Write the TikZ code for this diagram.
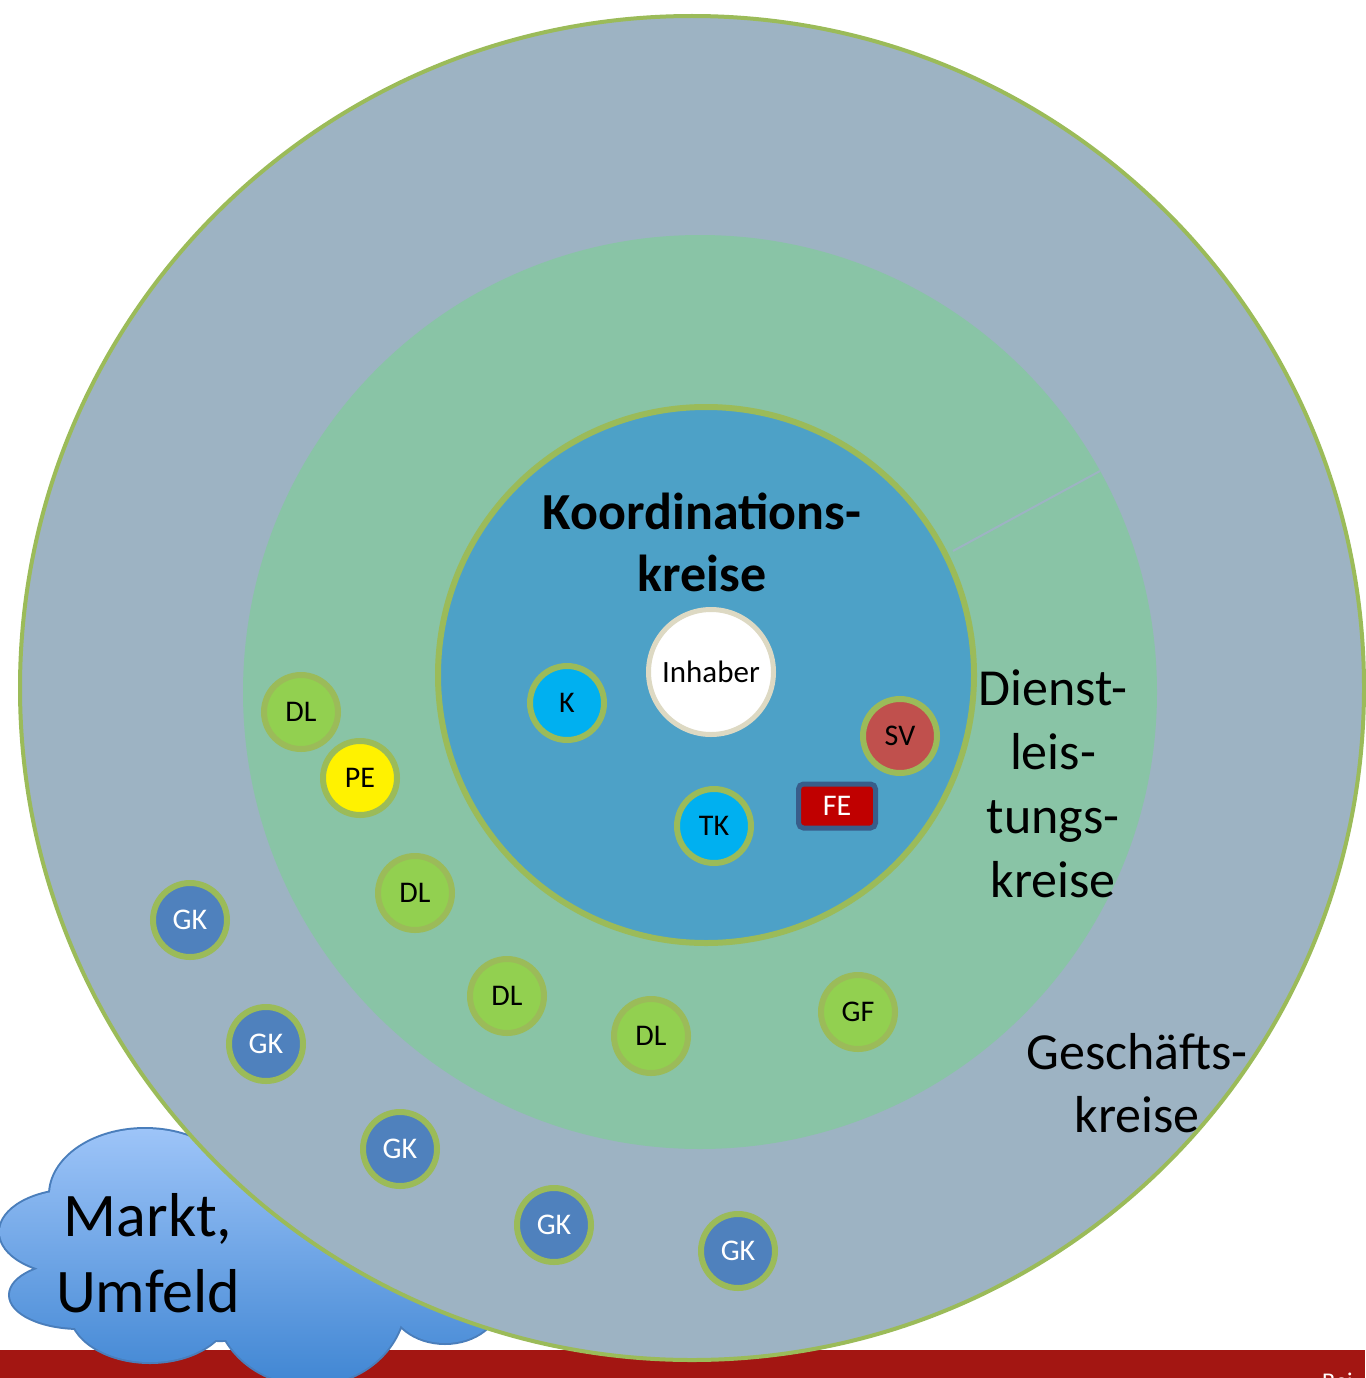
\documentclass[tikz,border=0pt]{standalone}
\usepackage{fontspec}
\setmainfont{Carlito}
\definecolor{outerfill}{RGB}{157,179,195}
\definecolor{greenfill}{RGB}{137,196,166}
\definecolor{innerfill}{RGB}{77,161,199}
\definecolor{olive}{RGB}{155,187,89}
\definecolor{dlfill}{RGB}{146,208,80}
\definecolor{gkfill}{RGB}{79,129,189}
\definecolor{cyanfill}{RGB}{0,176,240}
\definecolor{svfill}{RGB}{192,80,77}
\definecolor{fefill}{RGB}{192,0,0}
\definecolor{feborder}{RGB}{56,93,138}
\definecolor{beige}{RGB}{221,217,195}
\definecolor{barred}{RGB}{163,22,18}
\definecolor{cloudtop}{RGB}{157,196,248}
\definecolor{cloudbot}{RGB}{64,134,211}
\definecolor{cloudline}{RGB}{74,126,187}
\tikzset{
  small/.style={circle, minimum size=74pt, inner sep=0pt, line width=6pt, draw=olive, font=\fontsize{30}{36}\selectfont},
  dlnode/.style={small, fill=dlfill},
  gknode/.style={small, fill=gkfill, text=white},
  cynode/.style={small, fill=cyanfill},
  svnode/.style={small, fill=svfill},
  penode/.style={small, fill=yellow},
  bigtext/.style={font=\fontsize{52}{62}\selectfont, anchor=base},
  boldtext/.style={font=\fontsize{52}{62}\selectfont\bfseries, anchor=base},
  cloudtext/.style={font=\fontsize{62}{75}\selectfont, anchor=base}
}
\begin{document}
\begin{tikzpicture}[x=1pt,y=-1pt]
\useasboundingbox (0,0) rectangle (1365,1378);
% red bar
\fill[barred] (0,1350) rectangle (1365,1378);
\node[anchor=base west, text=white, font=\fontsize{24}{28}\selectfont, inner sep=0pt] (bei) at (1322,1389) {Bei};
% cloud
\def\cloudpath{(145,1195) ellipse [x radius=95pt, y radius=66pt]
  (75,1232) ellipse [x radius=75pt, y radius=42pt]
  (80,1295) ellipse [x radius=70pt, y radius=33pt]
  (150,1310) ellipse [x radius=80pt, y radius=52pt]
  (310,1300) ellipse [x radius=95pt, y radius=85pt]
  (445,1300) ellipse [x radius=55pt, y radius=43pt]
  (220,1260) ellipse [x radius=170pt, y radius=80pt]}
\draw[cloudline, line width=4pt] \cloudpath;
\shade[top color=cloudtop, bottom color=cloudbot] \cloudpath;
% circles
\draw[fill=outerfill, draw=olive, line width=4pt] (692,688) circle [radius=672pt];
\fill[greenfill] (700,692) circle [radius=457pt];
\draw[outerfill, line width=2pt] (953,551) -- (1100,471);
\draw[fill=innerfill, draw=olive, line width=6pt] (706,675) circle [radius=268pt];
% titles
\node[boldtext] (t1) at (702,529) {Koordinations-};
\node[boldtext] (t2) at (702,591) {kreise};
\node[bigtext] (d1) at (1053,705) {Dienst-};
\node[bigtext] (d2) at (1053,769) {leis-};
\node[bigtext] (d3) at (1053,833) {tungs-};
\node[bigtext] (d4) at (1053,897) {kreise};
\node[bigtext] (g1) at (1137,1069) {Geschäfts-};
\node[bigtext] (g2) at (1137,1132) {kreise};
% inner nodes
\node[circle, minimum size=125pt, inner sep=0pt, fill=white, draw=beige, line width=5pt, font=\fontsize{31}{36}\selectfont] (inh) at (711,672) {Inhaber};
\node[cynode] (k) at (567,703) {K};
\node[cynode] (tk) at (714,826) {TK};
\node[svnode] (sv) at (900,736) {SV};
\node[rectangle, rounded corners=5pt, minimum width=77pt, minimum height=44pt, inner sep=0pt, fill=fefill, draw=feborder, line width=5pt, text=white, font=\fontsize{30}{36}\selectfont] (fe) at (837,806) {FE};
% DL ring
\node[dlnode] (dl1) at (301,712) {DL};
\node[penode] (pe) at (360,778) {PE};
\node[dlnode] (dl2) at (415,893) {DL};
\node[dlnode] (dl3) at (507,996) {DL};
\node[dlnode] (dl4) at (651,1036) {DL};
\node[dlnode] (gf) at (858,1012) {GF};
% GK ring
\node[gknode] (gk1) at (190,920) {GK};
\node[gknode] (gk2) at (266,1044) {GK};
\node[gknode] (gk3) at (400,1149) {GK};
\node[gknode] (gk4) at (554,1225) {GK};
\node[gknode] (gk5) at (738,1251) {GK};
% cloud text
\node[cloudtext] (m1) at (148,1236) {Markt,};
\node[cloudtext] (m2) at (148,1312) {Umfeld};
\end{tikzpicture}
\end{document}
